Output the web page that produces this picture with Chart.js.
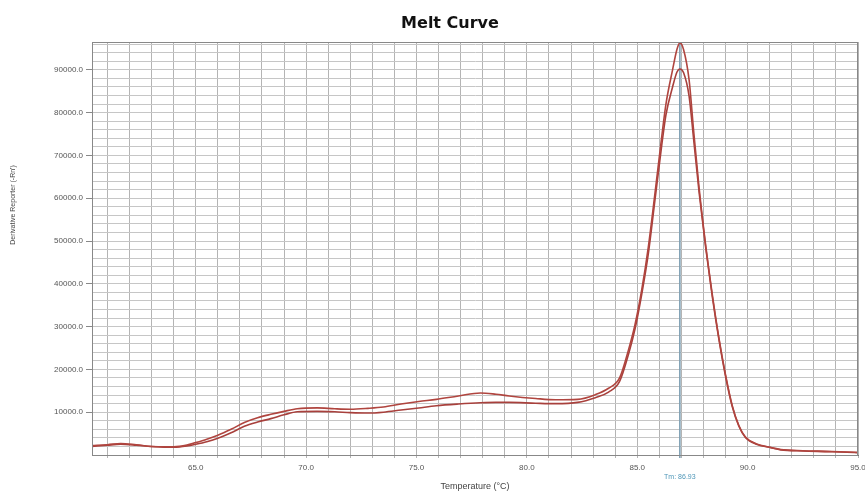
<!DOCTYPE html>
<html>
<head>
<meta charset="utf-8">
<script src="https://cdn.jsdelivr.net/npm/chart.js@4"></script>
<style>
  html, body { margin: 0; padding: 0; background: #fff; overflow: hidden; }
  #wrap { position: relative; width: 875px; height: 493px; }
</style>
</head>
<body>
<div id="wrap"><canvas id="c"></canvas></div>
<script>
// Melt curve: derivative reporter vs temperature for two wells
const temperature = [60.3, 61.0, 61.6, 62.3, 63.0, 64.0, 64.6, 65.0, 65.5, 66.0, 66.6, 67.2, 67.8, 68.4, 69.0, 69.6, 70.5, 71.3, 72.0, 72.8, 73.5, 74.3, 75.1, 75.9, 76.9, 77.9, 78.6, 79.2, 80.4, 81.3, 82.3, 83.1, 83.7, 84.2, 84.6, 84.9, 85.2, 85.5, 85.8, 86.1, 86.3, 86.6, 86.8, 86.93, 87.1, 87.35, 87.55, 87.8, 88.1, 88.4, 88.7, 89.0, 89.3, 89.6, 89.9, 90.4, 91.0, 91.5, 92.5, 93.5, 94.5, 95.0];
const wellA = [2200, 2400, 2700, 2400, 2000, 1900, 2300, 2900, 3700, 4600, 6000, 7600, 8700, 9500, 10200, 10800, 11000, 10800, 10700, 10900, 11200, 11900, 12500, 13000, 13800, 14500, 14200, 13800, 13200, 12900, 13000, 14100, 15600, 18000, 24500, 30500, 38500, 48500, 61000, 74000, 82000, 90000, 94800, 96300, 94700, 87600, 76000, 62500, 49000, 37500, 27300, 18700, 11600, 6900, 4200, 2600, 1800, 1300, 1000, 850, 700, 600];
const wellB = [2000, 2300, 2500, 2300, 2000, 1800, 2100, 2500, 3100, 3900, 5200, 6700, 7700, 8500, 9400, 10100, 10200, 10100, 9900, 9800, 10000, 10500, 11000, 11500, 11900, 12200, 12300, 12300, 12100, 12000, 12300, 13400, 14700, 17200, 23500, 29500, 37500, 47000, 59500, 72000, 79500, 86000, 89500, 90200, 89300, 83800, 74000, 61500, 48500, 37000, 27000, 18400, 11400, 6800, 4100, 2500, 1800, 1200, 950, 800, 650, 550];

// Grid positions and labelled ticks
const xGridValues = [61, 62, 63, 64, 65, 66, 67, 68, 69, 70, 71, 72, 73, 74, 75, 76, 77, 78, 79, 80, 81, 82, 83, 84, 85, 86, 87, 88, 89, 90, 91, 92, 93, 94, 95];
const xTickLabels = [65, 70, 75, 80, 85, 90, 95];
const yGridValues = [2000, 4000, 6000, 8000, 10000, 12000, 14000, 16000, 18000, 20000, 22000, 24000, 26000, 28000, 30000, 32000, 34000, 36000, 38000, 40000, 42000, 44000, 46000, 48000, 50000, 52000, 54000, 56000, 58000, 60000, 62000, 64000, 66000, 68000, 70000, 72000, 74000, 76000, 78000, 80000, 82000, 84000, 86000, 88000, 90000, 92000, 94000, 96000];
const yTickLabels = [10000, 20000, 30000, 40000, 50000, 60000, 70000, 80000, 90000];

const tmValue = 86.93;
const titleText = 'Melt Curve';
const yTitleText = "Derivative Reporter (-Rn')";
const xTitleText = 'Temperature (\u00B0C)';

const toPoints = ys => temperature.map((t, i) => ({ x: t, y: ys[i] }));

const textPlugin = {
  id: 'meltText',
  beforeDatasetsDraw(chart) {
    const { ctx, chartArea, scales } = chart;
    const px = scales.x.getPixelForValue(tmValue);
    ctx.save();
    ctx.strokeStyle = '#7d9fb3';
    ctx.lineWidth = 1.6;
    ctx.beginPath();
    ctx.moveTo(px, chartArea.top);
    ctx.lineTo(px, chartArea.bottom + 3);
    ctx.stroke();
    ctx.restore();
  },
  afterDraw(chart) {
    const { ctx, scales } = chart;
    ctx.save();
    // chart title
    ctx.fillStyle = '#111';
    ctx.font = 'bold 16px "DejaVu Sans"';
    ctx.textAlign = 'center';
    ctx.textBaseline = 'middle';
    ctx.fillText(titleText, 450, 24);
    // y axis title
    ctx.save();
    ctx.translate(13, 205);
    ctx.rotate(-Math.PI / 2);
    ctx.fillStyle = '#444';
    ctx.font = '7px "Liberation Sans"';
    ctx.fillText(yTitleText, 0, 0);
    ctx.restore();
    // Tm label
    ctx.fillStyle = '#4f97b8';
    ctx.font = '7px "Liberation Sans"';
    ctx.fillText('Tm: ' + tmValue.toFixed(2), scales.x.getPixelForValue(tmValue), 477);
    ctx.restore();
  }
};

new Chart(document.getElementById('c'), {
  type: 'line',
  data: {
    datasets: [
      { label: 'A', data: toPoints(wellA), borderColor: '#b0453f', borderWidth: 1.6, pointRadius: 0, cubicInterpolationMode: 'monotone', fill: false },
      { label: 'B', data: toPoints(wellB), borderColor: '#a8403c', borderWidth: 1.6, pointRadius: 0, cubicInterpolationMode: 'monotone', fill: false }
    ]
  },
  options: {
    responsive: true,
    maintainAspectRatio: false,
    animation: false,
    layout: { padding: { left: 0, right: 17, top: 42, bottom: 0 } },
    plugins: { legend: { display: false }, tooltip: { enabled: false }, title: { display: false } },
    scales: {
      x: {
        type: 'linear',
        min: 60.3,
        max: 95,
        afterBuildTicks: s => { s.ticks = xGridValues.map(v => ({ value: v })); },
        afterFit: s => { s.height = 38; },
        grid: { color: '#b4b4b4', lineWidth: 1, drawTicks: true, tickLength: 3 },
        border: { display: true, color: '#777', width: 1 },
        ticks: {
          autoSkip: false,
          maxRotation: 0,
          padding: 5,
          color: '#555',
          font: { family: 'Liberation Sans', size: 8 },
          callback: v => xTickLabels.includes(v) ? v.toFixed(1) : ''
        },
        title: { display: true, text: xTitleText, color: '#444', font: { family: 'Liberation Sans', size: 9 }, padding: { top: 0, bottom: 1 } }
      },
      y: {
        min: 0,
        max: 96500,
        afterBuildTicks: s => { s.ticks = yGridValues.map(v => ({ value: v })); },
        afterFit: s => { s.width = 92; },
        grid: {
          color: '#c6c6c6',
          lineWidth: 1,
          drawTicks: true,
          tickLength: 6,
          tickColor: c => (c.tick && yTickLabels.includes(c.tick.value)) ? '#888' : 'rgba(0,0,0,0)'
        },
        border: { display: true, color: '#777', width: 1 },
        ticks: {
          autoSkip: false,
          padding: 3,
          color: '#555',
          font: { family: 'Liberation Sans', size: 8 },
          callback: v => yTickLabels.includes(v) ? v.toFixed(1) : ''
        }
      }
    }
  },
  plugins: [textPlugin, {
    id: 'frame',
    afterDatasetsDraw(chart) {
      const { ctx, chartArea: a } = chart;
      ctx.save();
      ctx.strokeStyle = '#888';
      ctx.lineWidth = 1;
      ctx.strokeRect(a.left + 0.5, a.top + 0.5, a.right - a.left - 1, a.bottom - a.top);
      ctx.restore();
    }
  }]
});
</script>
</body>
</html>
